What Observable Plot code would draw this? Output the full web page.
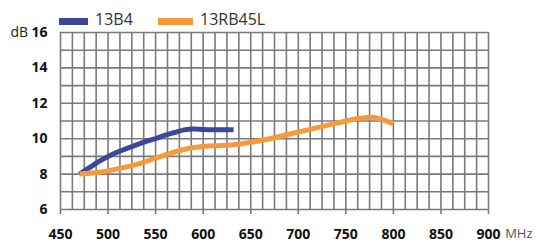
<!DOCTYPE html>
<html><head><meta charset="utf-8">
<script src="https://cdn.jsdelivr.net/npm/d3@7"></script>
<script src="https://cdn.jsdelivr.net/npm/@observablehq/plot@0.6"></script>
<style>
body{margin:0;background:#fff;}
#wrap{position:relative;width:537px;height:243px;font-family:"Open Sans",sans-serif;}
.leg{position:absolute;top:9px;font-size:16px;color:#333;line-height:20px;}
.sw{position:absolute;height:7px;top:18px;}
</style></head>
<body>
<div id="wrap"></div>
<script>
const seriesNames = ["13B4", "13RB45L"];
const seriesColors = ["#3B479A", "#F7993A"];
const freqB4 = [470, 480, 490, 500, 510, 520, 530, 540, 550, 560, 570, 580, 590, 600, 610, 620, 632];
const gainB4 = [8.0, 8.35, 8.7, 9.0, 9.25, 9.45, 9.65, 9.85, 10.0, 10.2, 10.35, 10.5, 10.55, 10.52, 10.5, 10.5, 10.5];
const freqRB = [470, 490, 510, 530, 550, 570, 590, 610, 630, 650, 670, 690, 710, 730, 750, 765, 780, 790, 800];
const gainRB = [8.0, 8.1, 8.3, 8.55, 8.9, 9.25, 9.5, 9.6, 9.65, 9.8, 10.0, 10.25, 10.5, 10.75, 11.0, 11.15, 11.2, 11.05, 10.85];
const xTicks = [450, 500, 550, 600, 650, 700, 750, 800, 850, 900];
const yTicks = [6, 8, 10, 12, 14, 16];

const data = [
  ...freqB4.map((f, i) => ({f, g: gainB4[i], s: seriesNames[0]})),
  ...freqRB.map((f, i) => ({f, g: gainRB[i], s: seriesNames[1]}))
];
const gridX = d3.range(450, 900.1, 12.5);
const gridY = d3.range(6, 16.1, 1);

const chart = Plot.plot({
  width: 537, height: 243,
  marginLeft: 60, marginRight: 49, marginTop: 32, marginBottom: 34,
  style: {fontFamily: "Open Sans, sans-serif", background: "#fff"},
  x: {domain: [450, 900]},
  y: {domain: [6, 16]},
  color: {domain: seriesNames, range: seriesColors},
  marks: [
    Plot.ruleX(gridX, {x: d => d, y1: 6, y2: 16, stroke: "#7a7a7a", strokeWidth: 1.6}),
    Plot.ruleY(gridY, {y: d => d, x1: 450, x2: 900, stroke: "#7a7a7a", strokeWidth: 1.6}),
    Plot.axisX(xTicks, {tickSize: 5, tickPadding: 15, fontSize: 14, fontWeight: "bold", fill: "#111", stroke: "#7a7a7a", strokeWidth: 1.6, label: null, tickFormat: d => d}),
    Plot.axisY(yTicks, {tickSize: 0, tickPadding: 13, fontSize: 14, fontWeight: "bold", fill: "#111", label: null, tickFormat: d => d}),
    Plot.line(data, {x: "f", y: "g", z: "s", stroke: "s", strokeWidth: 5, curve: "catmull-rom", strokeLinecap: "butt"}),
    Plot.text(["dB"], {frameAnchor: "top-left", lineAnchor: "middle", dx: -50, dy: 0, fontSize: 14, fill: "#222", textAnchor: "start"}),
    Plot.text(["MHz"], {frameAnchor: "bottom-right", lineAnchor: "middle", dx: 44, dy: 24, fontSize: 13, fill: "#555", textAnchor: "end"})
  ]
});
const wrap = document.getElementById("wrap");
wrap.appendChild(chart);
const leg = [
  {name: seriesNames[0], color: seriesColors[0], sx: 59, sw: 29, tx: 95},
  {name: seriesNames[1], color: seriesColors[1], sx: 158, sw: 35, tx: 200}
];
for (const l of leg) {
  const s = document.createElement("div");
  s.className = "sw"; s.style.left = l.sx + "px"; s.style.width = l.sw + "px"; s.style.background = l.color;
  wrap.appendChild(s);
  const t = document.createElement("div");
  t.className = "leg"; t.style.left = l.tx + "px"; t.textContent = l.name;
  wrap.appendChild(t);
}
chart.style.position = "absolute"; chart.style.left = "0"; chart.style.top = "0";
</script>
</body></html>
